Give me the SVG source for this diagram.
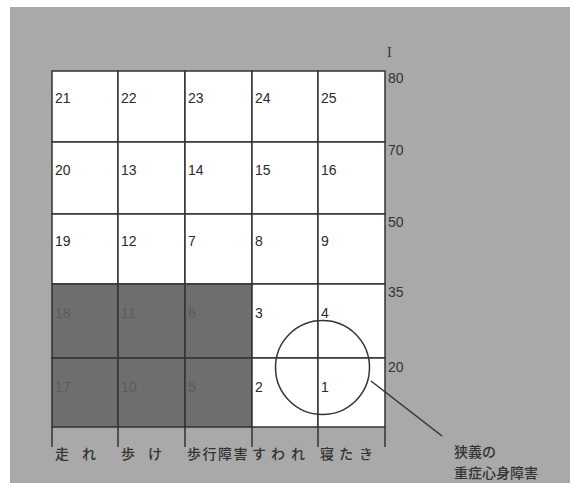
<svg xmlns="http://www.w3.org/2000/svg" width="570" height="483" viewBox="0 0 570 483">
<style>
.num{font-family:"Liberation Sans",Arial,sans-serif;font-size:14px;fill:#2a2a2a}
.dnum{font-family:"Liberation Sans",Arial,sans-serif;font-size:14px;fill:#5c5c5c}
.ax{font-family:"Liberation Sans",Arial,sans-serif;font-size:14px;fill:#333}
.jp{font-family:"Noto Sans CJK JP","Noto Sans CJK SC",sans-serif;font-size:14px;font-weight:500;fill:#333}
.w{fill:#ffffff;stroke:#333;stroke-width:1.5}
.d{fill:#6e6e6e;stroke:#333;stroke-width:1.5}
.ln{stroke:#333;stroke-width:1.5;fill:none}
</style>
<rect x="0" y="0" width="570" height="483" fill="#ffffff"/>
<rect x="10" y="7" width="560" height="476" fill="#a9a9a9"/>

<g id="cells">
<g id="c21"><rect class="w" x="52" y="71" width="66" height="71"/><text class="num" x="55" y="103">21</text></g>
<g id="c22"><rect class="w" x="118" y="71" width="67" height="71"/><text class="num" x="121" y="103">22</text></g>
<g id="c23"><rect class="w" x="185" y="71" width="67" height="71"/><text class="num" x="188" y="103">23</text></g>
<g id="c24"><rect class="w" x="252" y="71" width="66" height="71"/><text class="num" x="255" y="103">24</text></g>
<g id="c25"><rect class="w" x="318" y="71" width="67" height="71"/><text class="num" x="321" y="103">25</text></g>

<g id="c20"><rect class="w" x="52" y="142" width="66" height="72"/><text class="num" x="55" y="175">20</text></g>
<g id="c13"><rect class="w" x="118" y="142" width="67" height="72"/><text class="num" x="121" y="175">13</text></g>
<g id="c14"><rect class="w" x="185" y="142" width="67" height="72"/><text class="num" x="188" y="175">14</text></g>
<g id="c15"><rect class="w" x="252" y="142" width="66" height="72"/><text class="num" x="255" y="175">15</text></g>
<g id="c16"><rect class="w" x="318" y="142" width="67" height="72"/><text class="num" x="321" y="175">16</text></g>

<g id="c19"><rect class="w" x="52" y="214" width="66" height="70"/><text class="num" x="55" y="246">19</text></g>
<g id="c12"><rect class="w" x="118" y="214" width="67" height="70"/><text class="num" x="121" y="246">12</text></g>
<g id="c7"><rect class="w" x="185" y="214" width="67" height="70"/><text class="num" x="188" y="246">7</text></g>
<g id="c8"><rect class="w" x="252" y="214" width="66" height="70"/><text class="num" x="255" y="246">8</text></g>
<g id="c9"><rect class="w" x="318" y="214" width="67" height="70"/><text class="num" x="321" y="246">9</text></g>

<g id="c18"><rect class="d" x="52" y="284" width="66" height="74"/><text class="dnum" x="55" y="318">18</text></g>
<g id="c11"><rect class="d" x="118" y="284" width="67" height="74"/><text class="dnum" x="121" y="318">11</text></g>
<g id="c6"><rect class="d" x="185" y="284" width="67" height="74"/><text class="dnum" x="188" y="318">6</text></g>
<g id="c3"><rect class="w" x="252" y="284" width="66" height="74"/><text class="num" x="255" y="318">3</text></g>
<g id="c4"><rect class="w" x="318" y="284" width="67" height="74"/><text class="num" x="321" y="318">4</text></g>

<g id="c17"><rect class="d" x="52" y="358" width="66" height="69"/><text class="dnum" x="55" y="392">17</text></g>
<g id="c10"><rect class="d" x="118" y="358" width="67" height="69"/><text class="dnum" x="121" y="392">10</text></g>
<g id="c5"><rect class="d" x="185" y="358" width="67" height="69"/><text class="dnum" x="188" y="392">5</text></g>
<g id="c2"><rect class="w" x="252" y="358" width="66" height="69"/><text class="num" x="255" y="392">2</text></g>
<g id="c1"><rect class="w" x="318" y="358" width="67" height="69"/><text class="num" x="321" y="392">1</text></g>
</g>

<g id="axis">
<text x="387" y="57" font-family="Liberation Serif,serif" font-size="14" fill="#333">I</text>
<text class="ax" x="388" y="83">80</text>
<text class="ax" x="388" y="155">70</text>
<text class="ax" x="388" y="227">50</text>
<text class="ax" x="388" y="297">35</text>
<text class="ax" x="388" y="372">20</text>
<g class="ln">
<line x1="52" y1="427" x2="52" y2="447"/>
<line x1="118" y1="427" x2="118" y2="447"/>
<line x1="185" y1="427" x2="185" y2="447"/>
<line x1="252" y1="427" x2="252" y2="447"/>
<line x1="318" y1="427" x2="318" y2="447"/>
<line x1="385" y1="427" x2="385" y2="447"/>
</g>
<text class="jp" x="55 82" y="459">走れ</text>
<text class="jp" x="121 148" y="459">歩け</text>
<text class="jp" x="187 202.5 218 233.5" y="459">歩行障害</text>
<text class="jp" x="252 271 291" y="459">すわれ</text>
<text class="jp" x="320 339 359" y="459">寝たき</text>
</g>

<g id="narrow">
<circle class="ln" cx="322.5" cy="367.5" r="47"/>
<text class="jp" x="454" y="457">狭義の</text>
<text class="jp" x="454" y="478">重症心身障害</text>
</g>

<g id="connectors">
<line class="ln" x1="371" y1="381" x2="442" y2="436"/>
</g>
</svg>
